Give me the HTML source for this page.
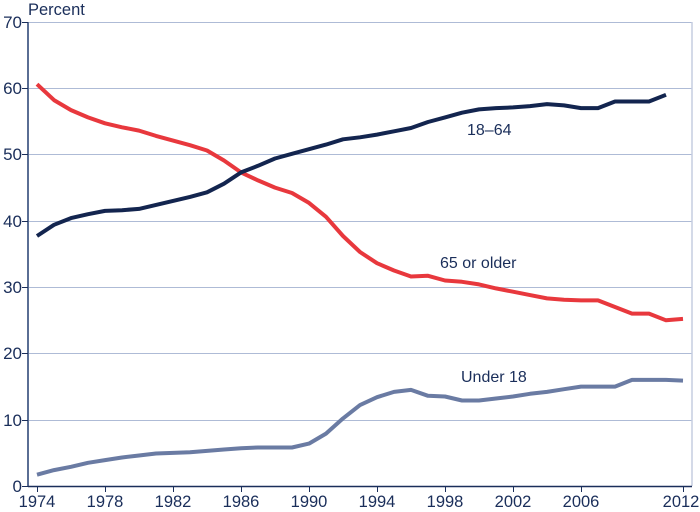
<!DOCTYPE html>
<html><head><meta charset="utf-8"><style>
html,body{margin:0;padding:0;background:#fff;}
svg{display:block;font-family:"Liberation Sans",Arial,sans-serif;}
</style></head><body>
<svg id="c" width="700" height="512" viewBox="0 0 700 512">
<g stroke="#aebbd6" stroke-width="1">
<line x1="28" y1="22.5" x2="692" y2="22.5"/>
<line x1="28" y1="88.5" x2="692" y2="88.5"/>
<line x1="28" y1="154.5" x2="692" y2="154.5"/>
<line x1="28" y1="221.5" x2="692" y2="221.5"/>
<line x1="28" y1="287.5" x2="692" y2="287.5"/>
<line x1="28" y1="353.5" x2="692" y2="353.5"/>
<line x1="28" y1="420.5" x2="692" y2="420.5"/>
</g>
<line x1="692" y1="22" x2="692" y2="486" stroke="#c5cde0" stroke-width="1.5"/>
<line x1="28" y1="22" x2="28" y2="487" stroke="#5a6e94" stroke-width="2"/>
<line x1="28" y1="486.5" x2="692" y2="486.5" stroke="#1a2e5a" stroke-width="1.5"/>
<g stroke="#1a2e5a" stroke-width="1">
<line x1="22" y1="22.5" x2="28" y2="22.5"/><line x1="22" y1="88.5" x2="28" y2="88.5"/>
<line x1="22" y1="154.5" x2="28" y2="154.5"/><line x1="22" y1="221.5" x2="28" y2="221.5"/>
<line x1="22" y1="287.5" x2="28" y2="287.5"/><line x1="22" y1="353.5" x2="28" y2="353.5"/>
<line x1="22" y1="420.5" x2="28" y2="420.5"/><line x1="22" y1="486.5" x2="28" y2="486.5"/>
</g>
<g id="xt" stroke="#1a2e5a" stroke-width="1"></g>
<g fill="#1a2e5a" font-size="17" text-anchor="end">
<text x="22" y="28">70</text><text x="22" y="94">60</text><text x="22" y="160">50</text>
<text x="22" y="227">40</text><text x="22" y="293">30</text><text x="22" y="359">20</text>
<text x="22" y="426">10</text><text x="22" y="492">0</text>
</g>
<text x="28" y="15" fill="#1a2e5a" font-size="16.5">Percent</text>
<g fill="#1a2e5a" font-size="16.5" text-anchor="middle">
<text x="37" y="507">1974</text><text x="105" y="507">1978</text><text x="173" y="507">1982</text>
<text x="241" y="507">1986</text><text x="309" y="507">1990</text><text x="377" y="507">1994</text>
<text x="445" y="507">1998</text><text x="513" y="507">2002</text><text x="581" y="507">2006</text>
<text x="681" y="507">2012</text>
</g>
<g fill="#1a2e5a" font-size="16">
<text x="467" y="135">18–64</text>
<text x="440" y="268">65 or older</text>
<text x="461" y="382">Under 18</text>
</g>
<polyline id="u" fill="none" stroke="#6a7ba3" stroke-width="4" stroke-linejoin="round"/>
<polyline id="o" fill="none" stroke="#e8383d" stroke-width="4" stroke-linejoin="round"/>
<polyline id="a" fill="none" stroke="#13254f" stroke-width="4" stroke-linejoin="round"/>
</svg>
<script>
function pts(d){return d.map((v,i)=>(37+17*i).toFixed(1)+","+(486-6.63*v).toFixed(1)).join(" ");}
document.getElementById("a").setAttribute("points",pts([37.7,39.4,40.4,41.0,41.5,41.6,41.8,42.4,43.0,43.6,44.3,45.6,47.3,48.3,49.4,50.1,50.8,51.5,52.3,52.6,53.0,53.5,54.0,54.9,55.6,56.3,56.8,57.0,57.1,57.3,57.6,57.4,57.0,57.0,58.0,58.0,58.0,59.0]));
document.getElementById("o").setAttribute("points",pts([60.6,58.2,56.7,55.6,54.7,54.1,53.6,52.8,52.1,51.4,50.6,49.1,47.3,46.1,45.0,44.2,42.7,40.6,37.7,35.3,33.6,32.5,31.6,31.7,31.0,30.8,30.4,29.8,29.3,28.8,28.3,28.1,28.0,28.0,27.0,26.0,26.0,25.0,25.2]));
document.getElementById("u").setAttribute("points",pts([1.7,2.4,2.9,3.5,3.9,4.3,4.6,4.9,5.0,5.1,5.3,5.5,5.7,5.8,5.8,5.8,6.4,7.9,10.2,12.2,13.4,14.2,14.5,13.6,13.5,12.9,12.9,13.2,13.5,13.9,14.2,14.6,15.0,15.0,15.0,16.0,16.0,16.0,15.9]));
var g=document.getElementById("xt"),s="";
[1974,1978,1982,1986,1990,1994,1998,2002,2006,2012].forEach(y=>{var x=37+17*(y-1974)+0.5;s+='<line x1="'+x+'" y1="486" x2="'+x+'" y2="492"/>';});
g.innerHTML=s;
</script>
</body></html>
